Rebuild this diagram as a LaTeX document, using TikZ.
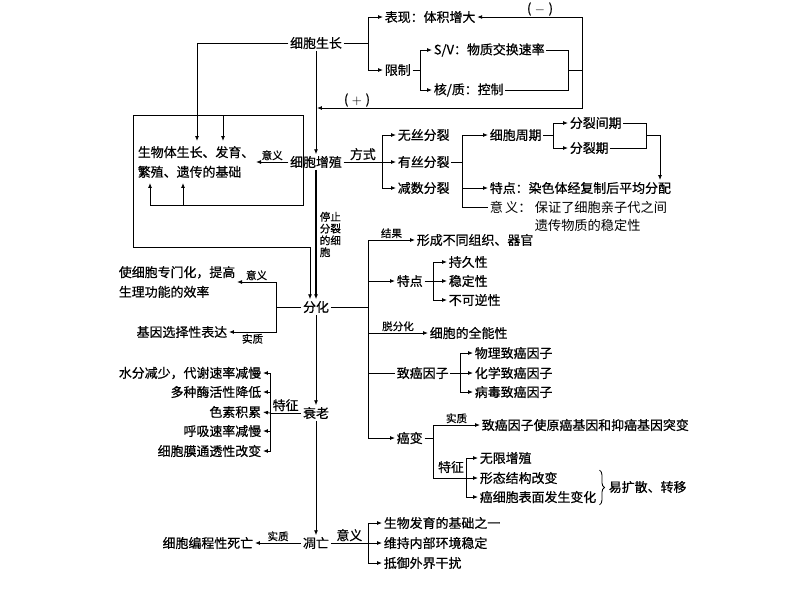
\documentclass[tikz,border=0pt]{standalone}
\usepackage{fontspec}
\setmainfont{Noto Sans CJK SC}[FakeBold=0.6]
\newfontfamily\thincjk{Noto Sans CJK SC}
\usetikzlibrary{arrows.meta, positioning, decorations.pathreplacing}

\tikzset{
  txt/.style={inner sep=1pt, font=\fontsize{9.2}{14}\selectfont, align=left},
  lbl/.style={inner sep=1pt, font=\fontsize{7.5}{8.4}\selectfont, align=left},
  arr/.style={-{Latex[length=3.5pt,width=2.8pt]}},
}

\begin{document}
\begin{tikzpicture}[x=0.025cm, y=-0.025cm, line width=0.6pt]
  \useasboundingbox (0,0) rectangle (800,600);

  % cell growth
  \node[txt] (grow) at (316,43) {细胞生长};
  \node[txt, anchor=west] (show) at (383,17) {表现：体积增大};
  \node[txt, anchor=west] (limit) at (383,70) {限制};
  \node[txt, anchor=west] (sv) at (432,50) {S/V：物质交换速率};
  \node[txt, anchor=west] (nc) at (432,90) {核/质：控制};
  \node[txt] (minus) at (540,9) {(\;$-$\;)};
  \node[txt] (plus) at (357,100) {(\;$+$\;)};

  \coordinate (jg) at (368,43);
  \coordinate (jl) at (420,70);
  \coordinate (jb) at (568,70);
  \coordinate (jf) at (582,70);
  \coordinate (pl) at (317,108);

  \draw (grow.east) -- (jg);
  \draw[arr] (jg) |- (show.west);
  \draw[arr] (jg) |- (limit.west);
  \draw (limit.east) -- (jl);
  \draw[arr] (jl) |- (sv.west);
  \draw[arr] (jl) |- (nc.west);
  \draw (sv.east) -| (jb) |- (nc.east);
  \draw (jb) -- (jf);
  \draw[arr] (jf) |- (show.east);
  \draw[arr] (jf) |- (pl);

  % cell proliferation
  \node[txt] (prolif) at (316,162) {细胞增殖};
  \node[txt, anchor=west] (base) at (136,162) {生物体生长、发育、\\繁殖、遗传的基础};
  \draw[arr] (grow) -- (prolif);

  \coordinate (tA) at (197,141);
  \coordinate (jB) at (223,115);
  \coordinate (tB) at (223,141);
  \coordinate (bx1) at (133,115);
  \coordinate (bx2) at (303,115);
  \coordinate (bx3) at (303,205);
  \coordinate (bx6) at (310,247);
  \coordinate (tC) at (150,183);
  \coordinate (jD) at (183,205);
  \coordinate (tD) at (183,183);

  \draw[arr] (grow.west) -| (tA);
  \draw[arr] (jB) -- (tB);
  \draw[arr] (bx2) -- (bx3) -| (tC);
  \draw[arr] (jD) -- (tD);
  \draw[arr] (prolif) -- node[lbl, above] (meanP) {意义} (base);

  \node[txt, anchor=west] (amit) at (396,135) {无丝分裂};
  \node[txt, anchor=west] (mit) at (396,162) {有丝分裂};
  \node[txt, anchor=west] (mei) at (396,188) {减数分裂};
  \coordinate (jp) at (382,162);
  \draw (prolif.east) -- node[txt, above] (way) {方式} (jp);
  \draw[arr] (jp) |- (amit.west);
  \draw[arr] (jp) -- (mit.west);
  \draw[arr] (jp) |- (mei.west);

  \node[txt, anchor=west] (cycle) at (488,135) {细胞周期};
  \node[txt, anchor=west] (inter) at (568,123) {分裂间期};
  \node[txt, anchor=west] (phase) at (568,148) {分裂期};
  \node[txt, anchor=west] (feat) at (488,188) {特点：染色体经复制后平均分配};
  \node[txt, anchor=west, font=\thincjk\fontsize{9.4}{12.8}\selectfont] (mean) at (488,207) {意\,义：};
  \node[txt, anchor=west, font=\thincjk\fontsize{9.4}{12.8}\selectfont] (meanb) at (533,216) {保证了细胞亲子代之间\\遗传物质的稳定性};
  \coordinate (jt) at (462,162);
  \coordinate (jc) at (553,135);
  \coordinate (jq) at (646,135);
  \coordinate (tE) at (660,180);
  \draw (mit.east) -- (jt);
  \draw[arr] (jt) |- (cycle.west);
  \draw[arr] (jt) |- (feat.west);
  \draw (jt) |- (mean.west);
  \draw (cycle.east) -- (jc);
  \draw[arr] (jc) |- (inter.west);
  \draw[arr] (jc) |- (phase.west);
  \draw (inter.east) -| (jq) |- (phase.east);
  \draw[arr] (jq) -| (tE);

  % differentiation
  \node[txt] (diff) at (316,307) {分化};
  \draw[arr, line width=1.1pt] (prolif) -- (diff);
  \node[lbl, anchor=north west] (stop) at (318,210) {停止\\分裂\\的细\\胞};
  \draw[arr] (bx2) -- (bx1) |- (bx6) -- (bx6 |- diff.north);

  \node[txt, anchor=west] (spec) at (117,282) {使细胞专门化，提高\\生理功能的效率};
  \node[txt, anchor=east] (gene) at (229,332) {基因选择性表达};
  \coordinate (jd) at (276,307);
  \draw (diff.west) -- (jd);
  \draw[arr] (jd) |- node[lbl, pos=0.75, above] (meanD) {意义} (spec.east);
  \draw[arr] (jd) |- node[lbl, pos=0.75, below] (essD) {实质} (gene.east);

  \node[txt, anchor=west] (res) at (415,240) {形成不同组织、器官};
  \node[txt, anchor=west] (dfeat) at (395,281) {特点};
  \node[txt, anchor=west] (pers) at (447,262) {持久性};
  \node[txt, anchor=west] (stab) at (447,281) {稳定性};
  \node[txt, anchor=west] (irr) at (447,300) {不可逆性};
  \node[txt, anchor=west] (toti) at (428,333) {细胞的全能性};
  \node[txt, anchor=west] (carc) at (395,373) {致癌因子};
  \node[txt, anchor=west] (phys) at (473,353) {物理致癌因子};
  \node[txt, anchor=west] (chem) at (473,373) {化学致癌因子};
  \node[txt, anchor=west] (viru) at (473,392) {病毒致癌因子};
  \node[txt, anchor=west] (canc) at (395,438) {癌变};
  \node[txt, anchor=west] (mut) at (480,425) {致癌因子使原癌基因和抑癌基因突变};
  \node[txt, anchor=west] (unl) at (478,458) {无限增殖};
  \node[txt, anchor=west] (morph) at (478,478) {形态结构改变};
  \node[txt, anchor=west] (surf) at (478,497) {癌细胞表面发生变化};
  \node[txt, anchor=west] (spread) at (607,487) {易扩散、转移};
  \node[txt] (featC) at (451,467) {特征};

  \coordinate (jr) at (368,307);
  \coordinate (jdf) at (433,281);
  \coordinate (jca) at (460,373);
  \coordinate (jk) at (433,438);
  \coordinate (jm) at (466,478);
  \draw (diff.east) -- (jr);
  \draw[arr] (jr) |- node[lbl, pos=0.75, above] (resl) {结果} (res.west);
  \draw[arr] (jr) |- (dfeat.west);
  \draw[arr] (jr) |- node[lbl, pos=0.75, above] (dedl) {脱分化} (toti.west);
  \draw (jr) |- (carc.west);
  \draw[arr] (jr) |- (canc.west);
  \draw (dfeat.east) -- (jdf);
  \draw[arr] (jdf) |- (pers.west);
  \draw[arr] (jdf) -- (stab.west);
  \draw[arr] (jdf) |- (irr.west);
  \draw (carc.east) -- (jca);
  \draw[arr] (jca) |- (phys.west);
  \draw[arr] (jca) -- (chem.west);
  \draw[arr] (jca) |- (viru.west);
  \draw (canc.east) -- (jk);
  \draw[arr] (jk) |- node[lbl, pos=0.75, above] (essC) {实质} (mut.west);
  \draw[arr] (jk) |- (morph.west);
  \draw[arr] (jm) |- (unl.west);
  \draw[arr] (jm) |- (surf.west);
  \draw[decorate, decoration={brace, amplitude=3.5pt}] ([xshift=1pt]surf.east |- morph.north) -- ([xshift=1pt]surf.east |- surf.south);

  % senescence
  \node[txt] (senes) at (316,413) {衰老};
  \draw[arr] (diff) -- (senes);
  \node[txt, anchor=east] (s1) at (263,373) {水分减少，代谢速率减慢};
  \node[txt, anchor=east] (s2) at (263,392) {多种酶活性降低};
  \node[txt, anchor=east] (s3) at (263,412) {色素积累};
  \node[txt, anchor=east] (s4) at (263,431) {呼吸速率减慢};
  \node[txt, anchor=east] (s5) at (263,451) {细胞膜通透性改变};
  \coordinate (js) at (270,413);
  \draw (senes.west) -- node[txt, above] (featS) {特征} (js);
  \draw[arr] (js) |- (s1.east);
  \draw[arr] (js) |- (s2.east);
  \draw[arr] (js) -- (s3.east);
  \draw[arr] (js) |- (s4.east);
  \draw[arr] (js) |- (s5.east);

  % apoptosis
  \node[txt] (apop) at (316,543) {凋亡};
  \draw[arr] (senes) -- (apop);
  \node[txt, anchor=east] (pcd) at (255,543) {细胞编程性死亡};
  \node[txt, anchor=west] (a1) at (382,523) {生物发育的基础之一};
  \node[txt, anchor=west] (a2) at (382,543) {维持内部环境稳定};
  \node[txt, anchor=west] (a3) at (382,563) {抵御外界干扰};
  \coordinate (ja) at (368,543);
  \draw[arr] (apop.west) -- node[lbl, above] (essA) {实质} (pcd.east);
  \draw (apop.east) -- node[txt, above] (meanA) {意义} (ja);
  \draw[arr] (ja) |- (a1.west);
  \draw[arr] (ja) -- (a2.west);
  \draw[arr] (ja) |- (a3.west);
\end{tikzpicture}
\end{document}
